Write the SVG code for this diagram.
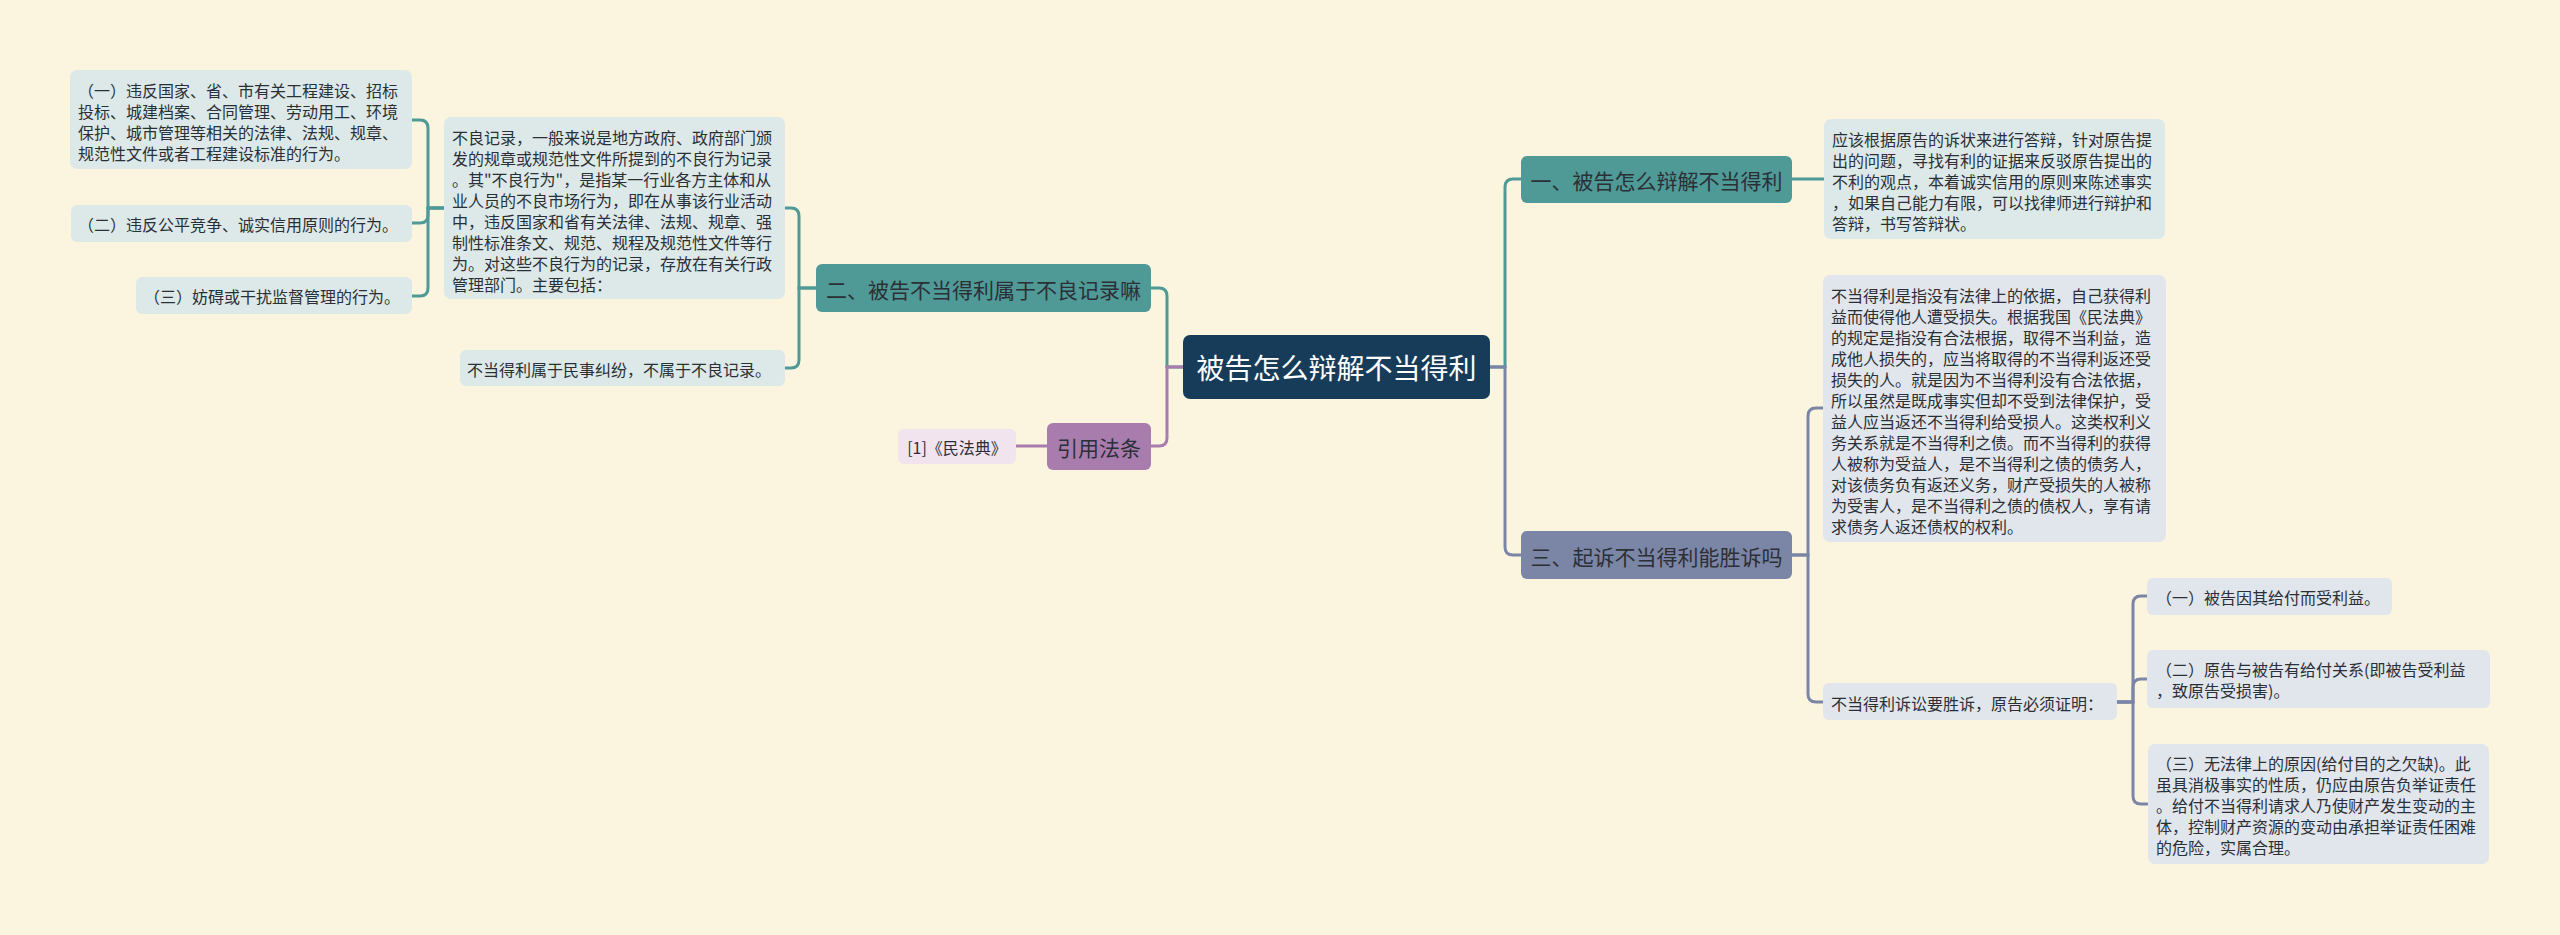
<svg xmlns="http://www.w3.org/2000/svg" width="2560" height="935" viewBox="0 0 2560 935">
<style>
text{font-family:"Noto Sans CJK SC","Noto Sans",sans-serif;dominant-baseline:central;fill:#2b2f36}
.s{font-size:16px}
.m{font-size:21px}
.root{font-size:28px;fill:#ffffff}
.c{text-anchor:middle}
.conn path{fill:none;stroke-width:3;stroke-linecap:round}
.teal{stroke:#4f9a97}
.slate{stroke:#7b86a6}
.pur{stroke:#a97cae}
.bt{fill:#dce9e8}
.bs{fill:#e1e5ec}
.bp{fill:#f1e4ef}
</style>
<rect width="2560" height="935" fill="#fbf5e0"/>
<g class="conn" id="connectors">
<path class="teal" d="M1183,367 H1167 V296 Q1167,288 1159,288 H1151"/>
<path class="pur" d="M1183,367 H1167 V438 Q1167,446 1159,446 H1151"/>
<path class="pur" d="M1047,446 H1016"/>
<path class="teal" d="M1490,367 H1505 V187 Q1505,179 1513,179 H1521"/>
<path class="slate" d="M1490,367 H1505 V547 Q1505,555 1513,555 H1521"/>
<path class="teal" d="M1792,179 H1824"/>
<path class="slate" d="M1792,555 H1808 V416 Q1808,408 1816,408 H1823"/>
<path class="slate" d="M1792,555 H1808 V694 Q1808,702 1816,702 H1823"/>
<path class="slate" d="M2117,702 H2133 V604 Q2133,596 2141,596 H2147"/>
<path class="slate" d="M2117,702 H2133 V687 Q2133,679 2141,679 H2147"/>
<path class="slate" d="M2117,702 H2133 V796 Q2133,804 2141,804 H2147"/>
<path class="teal" d="M816,288 H799 V216 Q799,208 791,208 H785"/>
<path class="teal" d="M816,288 H799 V360 Q799,368 791,368 H785"/>
<path class="teal" d="M444,208 H428 V128 Q428,120 420,120 H412"/>
<path class="teal" d="M444,208 H428 V215 Q428,223 420,223 H412"/>
<path class="teal" d="M444,208 H428 V288 Q428,296 420,296 H412"/>
</g>
<g id="root">
<rect x="1183" y="335" width="307" height="64" rx="7" fill="#173c5a"/>
<text class="root c" x="1336.5" y="367">被告怎么辩解不当得利</text>
</g>
<g id="branch1">
<rect x="1521" y="156" width="271" height="47" rx="6" fill="#4f9a97"/>
<text class="m c" x="1656.5" y="180">一、被告怎么辩解不当得利</text>
</g>
<g id="branch1-text">
<rect class="bt" x="1824" y="119" width="341" height="120" rx="7"/>
<text class="s"><tspan x="1832" y="139">应该根据原告的诉状来进行答辩，针对原告提</tspan><tspan x="1832" y="160">出的问题，寻找有利的证据来反驳原告提出的</tspan><tspan x="1832" y="181">不利的观点，本着诚实信用的原则来陈述事实</tspan><tspan x="1832" y="202">，如果自己能力有限，可以找律师进行辩护和</tspan><tspan x="1832" y="223">答辩，书写答辩状。</tspan></text>
</g>
<g id="branch3">
<rect x="1521" y="531" width="271" height="48" rx="6" fill="#7b86a6"/>
<text class="m c" x="1656.5" y="556">三、起诉不当得利能胜诉吗</text>
</g>
<g id="branch3-text">
<rect class="bs" x="1823" y="275" width="343" height="267" rx="7"/>
<text class="s"><tspan x="1831" y="295">不当得利是指没有法律上的依据，自己获得利</tspan><tspan x="1831" y="316">益而使得他人遭受损失。根据我国《民法典》</tspan><tspan x="1831" y="337">的规定是指没有合法根据，取得不当利益，造</tspan><tspan x="1831" y="358">成他人损失的，应当将取得的不当得利返还受</tspan><tspan x="1831" y="379">损失的人。就是因为不当得利没有合法依据，</tspan><tspan x="1831" y="400">所以虽然是既成事实但却不受到法律保护，受</tspan><tspan x="1831" y="421">益人应当返还不当得利给受损人。这类权利义</tspan><tspan x="1831" y="442">务关系就是不当得利之债。而不当得利的获得</tspan><tspan x="1831" y="463">人被称为受益人，是不当得利之债的债务人，</tspan><tspan x="1831" y="484">对该债务负有返还义务，财产受损失的人被称</tspan><tspan x="1831" y="505">为受害人，是不当得利之债的债权人，享有请</tspan><tspan x="1831" y="526">求债务人返还债权的权利。</tspan></text>
</g>
<g id="branch3-proof">
<rect class="bs" x="1823" y="683" width="294" height="37" rx="6"/>
<text class="s" x="1831" y="703">不当得利诉讼要胜诉，原告必须证明：</text>
</g>
<g id="proof1">
<rect class="bs" x="2147" y="578" width="245" height="37" rx="6"/>
<text class="s" x="2156" y="597">（一）被告因其给付而受利益。</text>
</g>
<g id="proof2">
<rect class="bs" x="2147" y="650" width="343" height="58" rx="6"/>
<text class="s"><tspan x="2156" y="669">（二）原告与被告有给付关系(即被告受利益</tspan><tspan x="2156" y="690">，致原告受损害)。</tspan></text>
</g>
<g id="proof3">
<rect class="bs" x="2148" y="744" width="341" height="120" rx="7"/>
<text class="s"><tspan x="2156" y="763">（三）无法律上的原因(给付目的之欠缺)。此</tspan><tspan x="2156" y="784">虽具消极事实的性质，仍应由原告负举证责任</tspan><tspan x="2156" y="805">。给付不当得利请求人乃使财产发生变动的主</tspan><tspan x="2156" y="826">体，控制财产资源的变动由承担举证责任困难</tspan><tspan x="2156" y="847">的危险，实属合理。</tspan></text>
</g>
<g id="branch2">
<rect x="816" y="264" width="335" height="48" rx="6" fill="#4f9a97"/>
<text class="m c" x="983.5" y="289">二、被告不当得利属于不良记录嘛</text>
</g>
<g id="branch2-record">
<rect class="bt" x="444" y="117" width="341" height="182" rx="7"/>
<text class="s"><tspan x="452" y="137">不良记录，一般来说是地方政府、政府部门颁</tspan><tspan x="452" y="158">发的规章或规范性文件所提到的不良行为记录</tspan><tspan x="452" y="179">。其"不良行为"，是指某一行业各方主体和从</tspan><tspan x="452" y="200">业人员的不良市场行为，即在从事该行业活动</tspan><tspan x="452" y="221">中，违反国家和省有关法律、法规、规章、强</tspan><tspan x="452" y="242">制性标准条文、规范、规程及规范性文件等行</tspan><tspan x="452" y="263">为。对这些不良行为的记录，存放在有关行政</tspan><tspan x="452" y="284">管理部门。主要包括：</tspan></text>
</g>
<g id="record1">
<rect class="bt" x="70" y="70" width="342" height="99" rx="7"/>
<text class="s"><tspan x="78" y="90">（一）违反国家、省、市有关工程建设、招标</tspan><tspan x="78" y="111">投标、城建档案、合同管理、劳动用工、环境</tspan><tspan x="78" y="132">保护、城市管理等相关的法律、法规、规章、</tspan><tspan x="78" y="153">规范性文件或者工程建设标准的行为。</tspan></text>
</g>
<g id="record2">
<rect class="bt" x="71" y="205" width="341" height="37" rx="6"/>
<text class="s" x="78" y="224">（二）违反公平竞争、诚实信用原则的行为。</text>
</g>
<g id="record3">
<rect class="bt" x="136" y="277" width="276" height="37" rx="6"/>
<text class="s" x="144" y="296">（三）妨碍或干扰监督管理的行为。</text>
</g>
<g id="branch2-civil">
<rect class="bt" x="460" y="350" width="325" height="36" rx="6"/>
<text class="s" x="467" y="369">不当得利属于民事纠纷，不属于不良记录。</text>
</g>
<g id="cite">
<rect x="1047" y="423" width="104" height="47" rx="6" fill="#a97cae"/>
<text class="m c" x="1099" y="447">引用法条</text>
</g>
<g id="cite1">
<rect class="bp" x="898" y="429" width="118" height="35" rx="6"/>
<text class="s c" x="957" y="447">[1]《民法典》</text>
</g>
</svg>
